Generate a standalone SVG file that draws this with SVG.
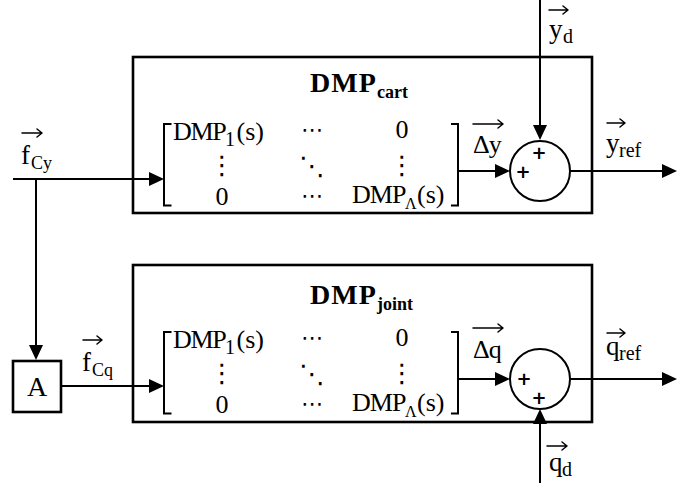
<svg xmlns="http://www.w3.org/2000/svg" width="699" height="483" viewBox="0 0 699 483">
<style>
.box{fill:none;stroke:#000;stroke-width:2.6}
.ln{fill:none;stroke:#000;stroke-width:2}
.br{fill:none;stroke:#000;stroke-width:2}
.vec{fill:none;stroke:#000;stroke-width:1.5;stroke-linecap:round;stroke-linejoin:round}
.t{font-family:"Liberation Serif",serif;fill:#000}
.m{font-family:"Liberation Serif",serif;font-size:26px;fill:#000}
.d{font-family:"DejaVu Sans",sans-serif;font-size:22px;fill:#000;text-anchor:middle}
.v{font-family:"DejaVu Sans",sans-serif;font-size:26px;fill:#000;text-anchor:middle}
.b{font-family:"Liberation Serif",serif;font-weight:bold;fill:#000}
.p{font-family:"DejaVu Sans",sans-serif;font-weight:bold;font-size:18px;fill:#000;text-anchor:middle}
</style>
<defs>
<marker id="ah" viewBox="0 0 15 14" refX="12" refY="7" markerWidth="15" markerHeight="14" markerUnits="userSpaceOnUse" orient="auto">
<path d="M0 0 L15 7 L0 14 z" fill="#000"/>
</marker>
</defs>
<rect width="699" height="483" fill="#fff"/>

<g id="dmp-cart">
<rect class="box" x="133" y="57" width="459" height="156"/>
<text class="b" x="310" y="92" font-size="28" letter-spacing="1">DMP<tspan x="377" y="98" font-size="18" letter-spacing="0">cart</tspan></text>
<g id="matrix-cart">
<path class="br" d="M171.5 124 H164 V205.5 H171.5"/>
<path class="br" d="M451 124 H458 V205.5 H451"/>
<text class="m" x="173" y="140" letter-spacing="-1.3">DMP<tspan x="225" y="146" font-size="20" letter-spacing="0">1</tspan><tspan x="236.5" y="140" letter-spacing="0">(s)</tspan></text>
<text class="d" x="312" y="137">⋯</text>
<text class="m" x="402" y="138" text-anchor="middle">0</text>
<text class="v" x="222" y="174">⋮</text>
<text class="v" x="312" y="175">⋱</text>
<text class="v" x="402" y="174">⋮</text>
<text class="m" x="222" y="205" text-anchor="middle">0</text>
<text class="d" x="312" y="203">⋯</text>
<text class="m" x="352" y="203" letter-spacing="-1">DMP<tspan x="405" y="209" font-size="16" letter-spacing="0">Λ</tspan><tspan x="417" y="203" letter-spacing="0">(s)</tspan></text>
</g>
</g>

<g id="sum-cart">
<circle class="ln" cx="540" cy="171" r="30"/>
<text class="p" x="539" y="158.5">+</text>
<text class="p" x="523" y="177.5">+</text>
</g>

<g id="dmp-joint">
<rect class="box" x="133" y="265" width="459" height="157"/>
<text class="b" x="310" y="304" font-size="28" letter-spacing="1">DMP<tspan x="377" y="310" font-size="18" letter-spacing="0">joint</tspan></text>
<g id="matrix-joint" transform="translate(0,208)">
<path class="br" d="M171.5 124 H164 V205.5 H171.5"/>
<path class="br" d="M451 124 H458 V205.5 H451"/>
<text class="m" x="173" y="140" letter-spacing="-1.3">DMP<tspan x="225" y="146" font-size="20" letter-spacing="0">1</tspan><tspan x="236.5" y="140" letter-spacing="0">(s)</tspan></text>
<text class="d" x="312" y="137">⋯</text>
<text class="m" x="402" y="138" text-anchor="middle">0</text>
<text class="v" x="222" y="174">⋮</text>
<text class="v" x="312" y="175">⋱</text>
<text class="v" x="402" y="174">⋮</text>
<text class="m" x="222" y="205" text-anchor="middle">0</text>
<text class="d" x="312" y="203">⋯</text>
<text class="m" x="352" y="203" letter-spacing="-1">DMP<tspan x="405" y="209" font-size="16" letter-spacing="0">Λ</tspan><tspan x="417" y="203" letter-spacing="0">(s)</tspan></text>
</g>
</g>

<g id="sum-joint">
<circle class="ln" cx="540" cy="379" r="30"/>
<text class="p" x="524" y="384.5">+</text>
<text class="p" x="539" y="403.5">+</text>
</g>

<g id="block-A">
<rect class="box" x="13" y="361" width="48" height="51"/>
<text class="t" x="37" y="396" font-size="28" text-anchor="middle">A</text>
</g>

<g id="connectors">
<path class="ln" d="M13 179 H161" marker-end="url(#ah)"/>
<path class="ln" d="M36 179 V357" marker-end="url(#ah)"/>
<path class="ln" d="M61 386 H161" marker-end="url(#ah)"/>
<path class="ln" d="M458 171 H507" marker-end="url(#ah)"/>
<path class="ln" d="M540 0 V137" marker-end="url(#ah)"/>
<path class="ln" d="M570 171 H674" marker-end="url(#ah)"/>
<path class="ln" d="M458 379 H507" marker-end="url(#ah)"/>
<path class="ln" d="M570 379 H674" marker-end="url(#ah)"/>
<path class="ln" d="M540 483 V412" marker-end="url(#ah)"/>
</g>

<g id="labels">
<path class="vec" d="M22 133 H42 M37 129 L42 133 L37 137"/>
<text class="t" x="21" y="164" font-size="27">f<tspan x="31" y="169" font-size="18">Cy</tspan></text>

<path class="vec" d="M549 10 H568 M563 6 L568 10 L563 14"/>
<text class="t" x="549" y="38" font-size="27">y<tspan x="563" y="43" font-size="20">d</tspan></text>

<path class="vec" d="M607 123 H625 M620 119 L625 123 L620 127"/>
<text class="t" x="606" y="152" font-size="27">y<tspan x="619" y="157" font-size="20">ref</tspan></text>

<path class="vec" d="M473 124 H503 M498 120 L503 124 L498 128"/>
<text class="m" x="473" y="153" letter-spacing="-1">Δy</text>

<path class="vec" d="M83 340 H102 M97 336 L102 340 L97 344"/>
<text class="t" x="82" y="371" font-size="27">f<tspan x="92" y="376" font-size="18">Cq</tspan></text>

<path class="vec" d="M473 328 H503 M498 324 L503 328 L498 332"/>
<text class="m" x="473" y="358" letter-spacing="-1">Δq</text>

<path class="vec" d="M607 333 H625 M620 329 L625 333 L620 337"/>
<text class="t" x="606" y="355" font-size="27">q<tspan x="619" y="360" font-size="20">ref</tspan></text>

<path class="vec" d="M547 446 H567 M562 442 L567 446 L562 450"/>
<text class="t" x="549" y="471" font-size="27">q<tspan x="562" y="476" font-size="20">d</tspan></text>
</g>
</svg>
